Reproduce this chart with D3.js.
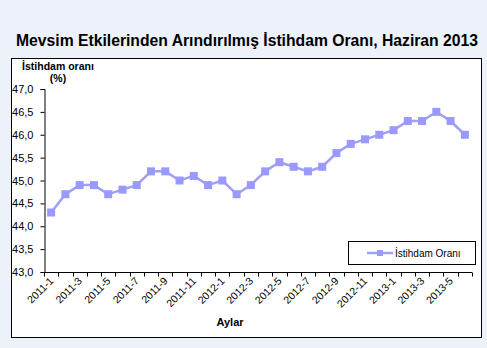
<!DOCTYPE html>
<html>
<head>
<meta charset="utf-8">
<script src="https://cdn.jsdelivr.net/npm/d3@7"></script>
<style>
  html, body { margin: 0; padding: 0; background: #edf1f9; }
  svg { display: block; font-family: "Liberation Sans", Arial, sans-serif; }
</style>
</head>
<body>
<svg id="chart" width="487" height="348"></svg>
<script>
// Monthly periods, January 2011 – June 2013
const months = [
  "2011-1","2011-2","2011-3","2011-4","2011-5","2011-6","2011-7","2011-8","2011-9","2011-10","2011-11","2011-12",
  "2012-1","2012-2","2012-3","2012-4","2012-5","2012-6","2012-7","2012-8","2012-9","2012-10","2012-11","2012-12",
  "2013-1","2013-2","2013-3","2013-4","2013-5","2013-6"
];
// Seasonally adjusted employment rate (%)
const employmentRate = [
  44.3, 44.7, 44.9, 44.9, 44.7, 44.8, 44.9, 45.2, 45.2, 45.0, 45.1, 44.9,
  45.0, 44.7, 44.9, 45.2, 45.4, 45.3, 45.2, 45.3, 45.6, 45.8, 45.9, 46.0,
  46.1, 46.3, 46.3, 46.5, 46.3, 46.0
];
const yTicks = [43.0, 43.5, 44.0, 44.5, 45.0, 45.5, 46.0, 46.5, 47.0];
const seriesName = "İstihdam Oranı";
const titleText = "Mevsim Etkilerinden Arındırılmış İstihdam Oranı, Haziran 2013";
const yTitle = ["İstihdam oranı", "(%)"];
const xTitle = "Aylar";

(function draw() {
const svg = d3.select("#chart");
const color = "#9999ff";

// chart frame
svg.append("rect").attr("x", 11.5).attr("y", 58.5).attr("width", 470).attr("height", 279)
  .attr("fill", "#fff").attr("stroke", "#000").attr("stroke-width", 1);

svg.append("text").attr("x", 247).attr("y", 46).attr("text-anchor", "middle")
  .attr("font-size", 16).attr("font-weight", "bold").attr("fill", "#000")
  .attr("textLength", 462).attr("lengthAdjust", "spacingAndGlyphs")
  .text(titleText);

const plotLeft = 44, plotRight = 472, plotTop = 89, plotBottom = 272;
const x = d3.scaleBand().domain(months).range([plotLeft, plotRight]);
const y = d3.scaleLinear().domain([43, 47]).range([plotBottom, plotTop]);

const fmt = v => v.toFixed(1).replace(".", ",");

// y axis
const yAxis = svg.append("g").attr("transform", `translate(${plotLeft + 0.5},0)`)
  .call(d3.axisLeft(y).tickValues(yTicks).tickFormat(fmt).tickSize(4).tickPadding(7));
yAxis.select(".domain").attr("stroke", "#000");
yAxis.selectAll(".tick line").attr("stroke", "#000");
yAxis.selectAll("text").attr("font-size", 11).attr("fill", "#000")
  .attr("font-family", "Liberation Sans, Arial, sans-serif");

// x axis with ticks on category boundaries
const xg = svg.append("g").attr("transform", `translate(0,${plotBottom + 0.5})`);
xg.append("line").attr("x1", plotLeft).attr("x2", plotRight).attr("stroke", "#000");
const bounds = d3.range(months.length + 1).map(i => plotLeft + i * x.step());
xg.selectAll("line.tk").data(bounds).join("line").attr("class", "tk")
  .attr("x1", d => Math.round(d) + 0.5).attr("x2", d => Math.round(d) + 0.5)
  .attr("y1", 0).attr("y2", 4).attr("stroke", "#000");
xg.selectAll("text").data(months.filter((m, i) => i % 2 === 0)).join("text")
  .attr("transform", d => `translate(${x(d) + x.bandwidth() / 2 + 3},${9}) rotate(-45)`)
  .attr("text-anchor", "end").attr("font-size", 10.5).attr("fill", "#000")
  .text(d => d);

// axis titles
svg.append("g").selectAll("text").data(yTitle).join("text")
  .attr("x", 58).attr("y", (d, i) => 70 + i * 12).attr("text-anchor", "middle")
  .attr("font-size", 10.5).attr("font-weight", "bold").text(d => d);
svg.append("text").attr("x", 230).attr("y", 326).attr("text-anchor", "middle")
  .attr("font-size", 11).attr("font-weight", "bold").text(xTitle);

// series
const cx = d => x(d) + x.bandwidth() / 2;
svg.append("path").datum(employmentRate.map((v, i) => [cx(months[i]), y(v)]))
  .attr("d", d3.line()).attr("fill", "none").attr("stroke", "#a0a0f4").attr("stroke-width", 2.5);
svg.append("g").selectAll("rect").data(employmentRate).join("rect")
  .attr("x", (v, i) => cx(months[i]) - 4).attr("y", v => y(v) - 4)
  .attr("width", 8).attr("height", 8).attr("fill", color);

// legend
const lg = svg.append("g");
lg.append("rect").attr("x", 348.5).attr("y", 241.5).attr("width", 127).attr("height", 23)
  .attr("fill", "#fff").attr("stroke", "#000");
lg.append("line").attr("x1", 367).attr("x2", 393).attr("y1", 253).attr("y2", 253)
  .attr("stroke", "#a0a0f4").attr("stroke-width", 2.5);
lg.append("rect").attr("x", 377).attr("y", 250).attr("width", 6).attr("height", 6).attr("fill", color);
lg.append("text").attr("x", 395).attr("y", 257).attr("font-size", 10).text(seriesName);
})();
</script>
</body>
</html>
